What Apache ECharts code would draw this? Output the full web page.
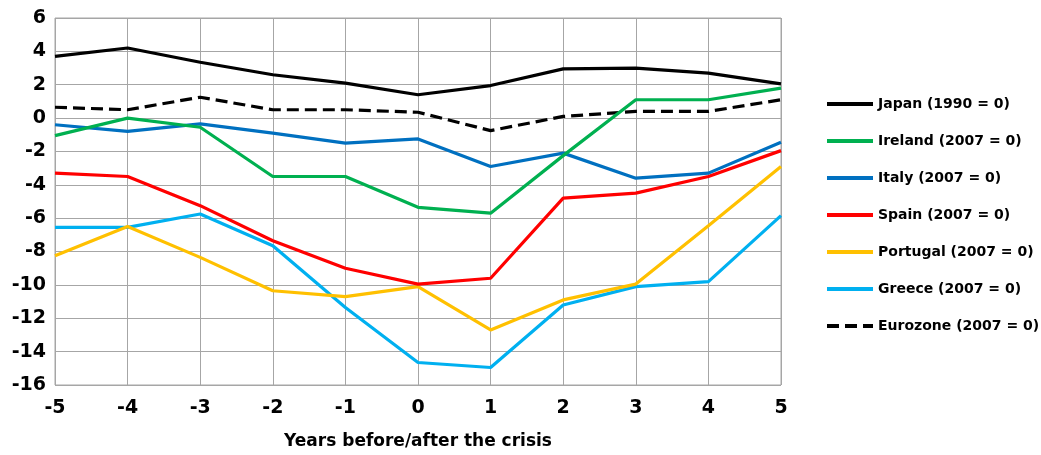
<!DOCTYPE html>
<html><head><meta charset="utf-8">
<script src="https://cdn.jsdelivr.net/npm/echarts@6/dist/echarts.min.js"></script>
<style>html,body{margin:0;padding:0;background:#fff}#c{width:1041px;height:455px}</style>
</head><body><div id="c"></div>
<script>
const categories = ['-5','-4','-3','-2','-1','0','1','2','3','4','5'];
const japan    = [3.7, 4.2, 3.35, 2.6, 2.1, 1.4, 1.95, 2.95, 3.0, 2.7, 2.05];
const ireland  = [-1.05, 0.0, -0.55, -3.5, -3.5, -5.35, -5.7, -2.25, 1.1, 1.1, 1.8];
const italy    = [-0.4, -0.8, -0.35, -0.9, -1.5, -1.25, -2.9, -2.1, -3.6, -3.3, -1.45];
const spain    = [-3.3, -3.5, -5.25, -7.35, -9.0, -9.95, -9.6, -4.8, -4.5, -3.5, -1.95];
const portugal = [-8.25, -6.5, -8.35, -10.35, -10.7, -10.1, -12.7, -10.9, -9.95, -6.45, -2.9];
const greece   = [-6.55, -6.55, -5.75, -7.65, -11.35, -14.65, -14.95, -11.2, -10.1, -9.8, -5.85];
const eurozone = [0.65, 0.5, 1.25, 0.5, 0.5, 0.35, -0.75, 0.1, 0.4, 0.4, 1.1];
const names = ['Japan (1990 = 0)','Ireland (2007 = 0)','Italy (2007 = 0)','Spain (2007 = 0)','Portugal (2007 = 0)','Greece (2007 = 0)','Eurozone (2007 = 0)'];
const colors = ['#000000','#00b050','#0070c0','#ff0000','#ffc000','#00b0f0','#000000'];
const dataSets = [japan, ireland, italy, spain, portugal, greece, eurozone];

const chart = echarts.init(document.getElementById('c'));
const font = 'DejaVu Sans, sans-serif';
chart.setOption({
  animation: false,
  color: colors,
  grid: {left: 55, right: 260, top: 18, bottom: 70, show: true, borderColor: '#a6a6a6', borderWidth: 1},
  legend: {
    orient: 'vertical', left: 820, top: 92,
    itemWidth: 46, itemHeight: 14, itemGap: 23,
    itemStyle: {opacity: 0},
    lineStyle: {width: 4},
    textStyle: {fontFamily: font, fontWeight: 'bold', fontSize: 14, color: '#000'},
    data: names
  },
  xAxis: {
    type: 'category', boundaryGap: false, data: categories,
    name: 'Years before/after the crisis', nameLocation: 'middle', nameGap: 48,
    nameTextStyle: {fontFamily: font, fontWeight: 'bold', fontSize: 17, color: '#000'},
    axisLine: {show: false}, axisTick: {show: false},
    axisLabel: {fontFamily: font, fontWeight: 'bold', fontSize: 19, color: '#000', margin: 14},
    splitLine: {show: true, lineStyle: {color: '#a6a6a6', width: 1}}
  },
  yAxis: {
    type: 'value', min: -16, max: 6, interval: 2,
    axisLine: {show: false}, axisTick: {show: false},
    axisLabel: {fontFamily: font, fontWeight: 'bold', fontSize: 19, color: '#000', margin: 9},
    splitLine: {show: true, lineStyle: {color: '#a6a6a6', width: 1}}
  },
  series: dataSets.map((d, i) => ({
    name: names[i], type: 'line', data: d, symbol: 'none',
    lineStyle: {width: 3.2, color: colors[i], type: i === 6 ? [12, 6] : 'solid'},
    itemStyle: {color: colors[i]},
    z: 10 - i
  }))
});
</script></body></html>
